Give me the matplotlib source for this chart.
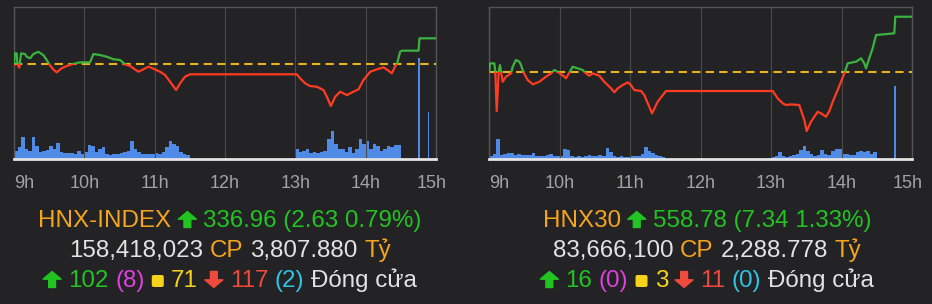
import numpy as np
import matplotlib
matplotlib.use("Agg")
import matplotlib.pyplot as plt
from matplotlib.patches import Rectangle, Polygon, FancyBboxPatch
from matplotlib.transforms import ScaledTranslation, IdentityTransform

# ---- data (minutes after 9:00, index points) ----
hour_labels = ["9h", "10h", "11h", "12h", "13h", "14h", "15h"]

hnx_t = [0, 0.85, 2.3, 2.8, 4.5, 6, 9.4, 10.8, 13.7, 16.5, 20.7, 25, 27.9, 30.1, 33.5, 36.4,
         40.7, 45, 49.2, 56.3, 64.9, 67.7, 73.4, 79.1, 84.8, 90.5, 94.7, 99, 106.1, 110.4,
         114.6, 120.3, 124.6, 128.9, 133.1, 138.3, 141.7, 145.9, 150.2, 241.3, 244.1, 248.4,
         252.6, 258.4, 264, 266.9, 270.3, 274, 278.2, 284, 289.6, 293.9, 298.1, 303.9, 309.6,
         315.2, 319.5, 322.4, 325.2, 326.6, 329.4, 330.9, 345.1, 345.9, 359.3]
hnx_p = [334.33, 335.44, 335.44, 334.43, 333.99, 335.44, 335.37, 335.10, 334.94, 335.37,
         335.60, 335.27, 334.77, 334.33, 333.82, 333.52, 333.93, 334.16, 334.33, 334.53,
         334.53, 335.37, 335.27, 335.10, 334.84, 334.77, 334.33, 334.16, 333.58, 333.82,
         334.09, 333.82, 333.58, 333.25, 332.57, 331.73, 332.41, 333.08, 333.32, 333.32,
         332.91, 332.41, 332.13, 332.06, 331.73, 331.05, 330.11, 331.05, 331.56, 331.22,
         331.56, 331.80, 332.74, 333.58, 333.82, 334.03, 333.68, 333.42, 334.16, 334.33,
         335.60, 335.71, 335.71, 336.96, 336.96]
hnx_ref = 334.33
hnx_ylim = (324.78, 340.10)
# volume, 3-minute bins (morning from 9:00, afternoon from 13:00)
hnx_vol_am = [8, 12, 22, 10, 8, 22, 13, 7, 8, 9, 13, 10, 16, 7, 6, 6, 6, 5, 8, 5,
              7, 14, 13, 7, 10, 12, 5, 4, 5, 5, 6, 7, 8, 18, 10, 7, 5, 5, 5, 5,
              6, 5, 7, 12, 18, 15, 13, 7, 5, 4]
hnx_vol_pm = [10, 7, 8, 10, 6, 7, 6, 7, 8, 20, 28, 15, 10, 10, 7, 12, 6, 10, 20, 15,
              18, 10, 15, 13, 8, 10, 13, 12, 14, 14]
hnx_atc_t = [345.3, 353.6]
hnx_atc_v = [101, 47]

h30_t = [0, 0.6, 4.3, 5.1, 6.3, 8, 9.1, 10.2, 11.4, 14.2, 18.5, 19.9, 22.7, 25.6, 27, 29,
         32.7, 37, 42.6, 48.3, 52.6, 55.4, 58.3, 63.9, 65.3, 71, 75.3, 79.5, 82.4, 85.2,
         88.1, 93.7, 97.9, 103.7, 106.5, 109.4, 113.6, 117.9, 120.7, 123.5, 129.2, 132,
         138.6, 143.4, 150.5, 241.4, 245.6, 249.9, 252.7, 257, 264, 268.3, 270.3, 274,
         279.7, 282.5, 286.8, 289.6, 292.5, 296.7, 299.5, 302.4, 305.2, 312.3, 316.6,
         319.4, 320.8, 323.6, 326.5, 329.4, 344.9, 345.8, 359.2]
h30_p = [551.44, 552.59, 552.59, 551.44, 546.26, 551.48, 552.37, 551.26, 550.15, 550.82,
         551.26, 552.14, 553.03, 552.81, 552.37, 551.44, 550.38, 549.81, 550.15, 550.82,
         551.26, 551.71, 551.48, 550.82, 550.60, 552.14, 551.93, 551.71, 551.26, 550.95,
         551.26, 550.95, 550.15, 549.28, 548.75, 549.28, 549.71, 550.07, 549.71, 549.05,
         548.92, 548.39, 545.96, 547.50, 548.92, 548.92, 547.95, 547.29, 547.06, 547.15,
         547.06, 545.07, 543.61, 544.85, 546.17, 545.96, 545.51, 546.26, 547.50, 549.05,
         550.15, 551.26, 552.59, 552.81, 553.26, 552.59, 551.93, 553.26, 554.60, 556.35,
         556.58, 558.78, 558.78]
h30_ref = 551.44
h30_ylim = (539.94, 560.03)
h30_vol_am = [3, 5, 20, 4, 5, 6, 6, 4, 5, 4, 4, 4, 6, 3, 3, 3, 4, 5, 3, 3,
              3, 10, 9, 3, 2, 3, 2, 3, 4, 3, 3, 4, 3, 11, 7, 3, 2, 3, 2, 2,
              3, 3, 3, 5, 12, 8, 6, 4, 3, 2]
h30_vol_pm = [2, 3, 7, 3, 2, 3, 4, 5, 9, 13, 8, 5, 3, 4, 9, 5, 4, 8, 10, 10,
              5, 5, 4, 4, 7, 8, 7, 8, 5, 7]
h30_atc_t = [345.3]
h30_atc_v = [72.7]

# summary lines
hnx_info = dict(name="HNX-INDEX", close="336.96", chg="2.63", pct="0.79%",
                vol="158,418,023", val="3,807.880", up="102", ceil="(8)",
                flat="71", down="117", floor="(2)")
h30_info = dict(name="HNX30", close="558.78", chg="7.34", pct="1.33%",
                vol="83,666,100", val="2,288.778", up="16", ceil="(0)",
                flat="3", down="11", floor="(0)")

BG = "#232224"
BLUE = "#4f8ae6"
GREEN = "#3bb33f"
RED = "#ff3b22"
GOLD = "#e8b41c"
ORANGE = "#f5a41e"
TGREEN = "#21c421"
WHITE = "#e2e2e2"
MAGENTA = "#e040e0"
YELLOW = "#f6d21a"
TRED = "#f04a3c"
CYAN = "#2ec4e6"

plt.rcParams["font.family"] = ["Liberation Sans", "DejaVu Sans"]

fig = plt.figure(figsize=(9.32, 3.04), dpi=100, facecolor=BG)
W, H = 932, 304
PIX = IdentityTransform()


def panel(x0, x1, t, p, ref, ylim, vol_am, vol_pm, atc_t, atc_v):
    top, bottom = 7.3, 158.7
    ax = fig.add_axes([x0 / W, 1 - bottom / H, (x1 - x0) / W, (bottom - top) / H])
    ax.set_facecolor(BG)
    ax.bar(np.arange(len(vol_am)) * 3 + 1.5, vol_am, width=3, color=BLUE, linewidth=0)
    ax.bar(240 + np.arange(len(vol_pm)) * 3 + 1.5, vol_pm, width=3, color=BLUE, linewidth=0)
    ax.bar(atc_t, atc_v, width=1.4, color=BLUE, linewidth=0)
    ax.set_xlim(0, 360)
    ax.set_ylim(0, 151.4)
    ax.set_xticks(np.arange(0, 361, 60))
    ax.set_xticklabels(hour_labels)
    ax.set_yticks([])
    ax.grid(axis="x", color="#4a4a4a", lw=0.8)
    ax.tick_params(axis="x", length=0, pad=12, labelsize=13, labelcolor="#a3a3a3")
    labels = ax.get_xticklabels()
    labels[0].set_ha("left")
    labels[-1].set_transform(labels[-1].get_transform()
                             + ScaledTranslation(-4.5 / 100, 0, fig.dpi_scale_trans))
    for side in ["top", "left", "right"]:
        ax.spines[side].set_color("#555555")
        ax.spines[side].set_linewidth(1)
    ax.spines["bottom"].set_color("#e4e4e4")
    ax.spines["bottom"].set_linewidth(2)

    ax2 = ax.twinx()
    ax2.set_ylim(*ylim)
    ax2.set_yticks([])
    for s in ax2.spines.values():
        s.set_visible(False)
    ax2.axhline(ref, color=GOLD, lw=1.5, dashes=(4, 2.5))
    for color, y0, y1 in [(GREEN, ref, ylim[1]), (RED, ylim[0], ref)]:
        line, = ax2.plot(t, p, color=color, lw=1.6, solid_joinstyle="round")
        line.set_clip_path(Rectangle((0, y0), 360, y1 - y0, transform=ax2.transData))


panel(14, 436, hnx_t, hnx_p, hnx_ref, hnx_ylim, hnx_vol_am, hnx_vol_pm, hnx_atc_t, hnx_atc_v)
panel(489.3, 912, h30_t, h30_p, h30_ref, h30_ylim, h30_vol_am, h30_vol_pm, h30_atc_t, h30_atc_v)

renderer = fig.canvas.get_renderer()
FS = 17.4
SYMBOL_W = {"up": 25, "down": 25, "sq": 20}


def draw_symbol(kind, x, base_y, color):
    # x in pixels from left, base_y in pixels from top
    yb = H - base_y
    if kind == "sq":
        w, h = 12, 12
        fig.patches.append(FancyBboxPatch(
            (x + 4 + 2, yb + 2), w - 4, h - 4, boxstyle="round,pad=2",
            transform=PIX, facecolor=color, edgecolor="none"))
        return
    w, h = 18, 16
    x0 = x + 3.5
    y0 = yb - 0.5
    shape = [(0.5, 1.0), (1.0, 0.52), (0.69, 0.52), (0.69, 0.0), (0.31, 0.0),
             (0.31, 0.52), (0.0, 0.52)]
    if kind == "down":
        shape = [(u, 1 - v) for u, v in shape]
    fig.patches.append(Polygon([(x0 + u * w, y0 + v * h) for u, v in shape], closed=True,
                               transform=PIX, facecolor=color, edgecolor=color, lw=1,
                               joinstyle="round"))


def text_line(cx, base_y, parts):
    gap = FS * 100 / 72 * 0.278
    items = []
    for s, c in parts:
        if s in SYMBOL_W:
            items.append((s, c, None, SYMBOL_W[s] - gap))
        else:
            tx = fig.text(0, 1 - base_y / H, s, color=c, fontsize=FS, va="baseline",
                          ha="left")
            items.append((s, c, tx, tx.get_window_extent(renderer).width))
    total = sum(it[3] for it in items) + gap * (len(items) - 1)
    x = cx - total / 2
    for s, c, tx, w in items:
        if tx is None:
            draw_symbol(s, x - gap / 2, base_y, c)
        else:
            tx.set_x(x / W)
        x += w + gap


def summary(cx, info):
    text_line(cx, 227, [(info["name"], ORANGE), ("up", TGREEN),
                        (f'{info["close"]} ({info["chg"]} {info["pct"]})', TGREEN)])
    text_line(cx, 257, [(info["vol"], WHITE), ("CP", ORANGE), (info["val"], WHITE),
                        ("Tỷ", ORANGE)])
    text_line(cx, 287, [("up", TGREEN), (info["up"], TGREEN), (info["ceil"], MAGENTA),
                        ("sq", YELLOW), (info["flat"], YELLOW), ("down", TRED),
                        (info["down"], TRED), (info["floor"], CYAN), ("Đóng cửa", WHITE)])


summary(230, hnx_info)
summary(707, h30_info)

fig.savefig("out.png", dpi=100, facecolor=BG)
